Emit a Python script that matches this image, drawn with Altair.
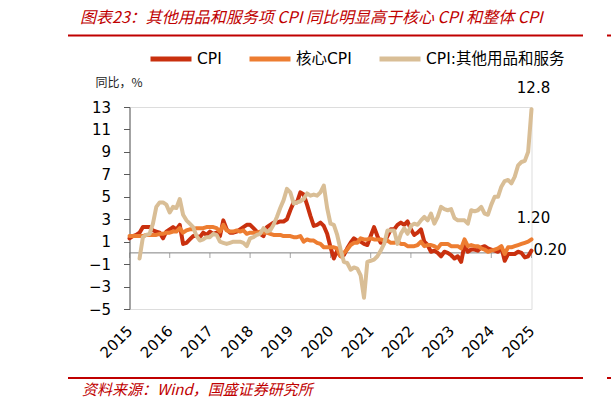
import altair as alt
import pandas as pd

# ---------------- data ----------------
title_text = "图表23：其他用品和服务项 CPI 同比明显高于核心 CPI 和整体 CPI"
source_text = "资料来源：Wind，国盛证券研究所"
y_title = "同比，%"
series_names = ["CPI", "核心CPI", "CPI:其他用品和服务"]
series_colors = ["#C9300E", "#ED7D31", "#D9BE96"]
end_labels = ["0.20", "1.20", "12.8"]

year_labels = ["2015", "2016", "2017", "2018", "2019", "2020",
               "2021", "2022", "2023", "2024", "2025"]
year_ticks = [0, 12, 24, 36, 48, 60, 72, 84, 96, 108, 120]   # month index of each label
y_ticks = [-5, -3, -1, 1, 3, 5, 7, 9, 11, 13]

# monthly, 2015-10 ... 2025-10
cpi = [1.3, 1.5, 1.6,
       1.8, 2.3, 2.3, 2.3, 2.0, 1.9, 1.8, 1.3, 1.9, 2.1, 2.3, 2.1,
       2.5, 0.8, 0.9, 1.2, 1.5, 1.5, 1.4, 1.8, 1.6, 1.9, 1.7, 1.8,
       1.5, 2.9, 2.1, 1.8, 1.8, 1.9, 2.1, 2.3, 2.5, 2.5, 2.2, 1.9,
       1.7, 1.5, 2.3, 2.5, 2.7, 2.7, 2.8, 2.8, 3.0, 3.8, 4.5, 4.5,
       5.4, 5.2, 4.3, 3.3, 2.4, 2.5, 2.7, 2.4, 1.7, 0.5, -0.5, 0.2,
       -0.3, -0.2, 0.4, 0.9, 1.3, 1.1, 1.0, 0.8, 0.7, 1.5, 2.3, 1.5,
       0.9, 0.9, 1.5, 2.1, 2.1, 2.5, 2.7, 2.5, 2.8, 2.1, 1.6, 1.8,
       2.1, 1.0, 0.7, 0.1, 0.2, 0.0, -0.3, 0.1, 0.0, -0.2, -0.5, -0.3,
       -0.8, 0.7, 0.1, 0.3, 0.3, 0.2, 0.5, 0.6, 0.4, 0.3, 0.2, 0.1,
       0.5, -0.7, -0.1, -0.1, -0.1, 0.1, 0.0, -0.4, -0.3, 0.2]

core = [1.5, 1.5, 1.5,
        1.5, 1.5, 1.6, 1.6, 1.6, 1.6, 1.7, 1.7, 1.8, 1.8, 1.9, 1.9,
        2.2, 1.8, 2.0, 2.1, 2.1, 2.2, 2.2, 2.2, 2.3, 2.3, 2.3, 2.2,
        1.9, 2.5, 2.0, 1.9, 1.9, 2.0, 1.9, 2.0, 1.7, 1.8, 1.8, 1.8,
        1.9, 1.8, 1.8, 1.7, 1.6, 1.6, 1.6, 1.5, 1.5, 1.5, 1.4, 1.4,
        1.5, 1.0, 1.2, 1.1, 1.1, 0.9, 0.8, 0.5, 0.5, 0.5, 0.5, 0.4,
        -0.3, 0.0, 0.3, 0.7, 0.9, 0.9, 1.3, 1.2, 1.2, 1.3, 1.2, 1.2,
        1.2, 1.1, 1.1, 0.9, 0.9, 1.0, 0.8, 0.8, 0.6, 0.6, 0.6, 0.7,
        1.0, 0.6, 0.7, 0.7, 0.6, 0.4, 0.8, 0.8, 0.8, 0.6, 0.6, 0.6,
        0.4, 1.2, 0.6, 0.7, 0.6, 0.6, 0.4, 0.3, 0.1, 0.2, 0.3, 0.4,
        0.6, -0.1, 0.5, 0.5, 0.6, 0.7, 0.8, 0.9, 1.0, 1.2]

other = [None, None, None,
         -0.5, 1.4, 1.6, 1.7, 2.6, 4.1, 4.5, 4.5, 4.3, 3.6, 4.1, 4.0,
         4.8, 3.4, 2.9, 2.6, 2.3, 1.5, 1.1, 1.2, 1.4, 1.4, 1.7, 1.6,
         1.0, 0.9, 0.8, 0.9, 1.0, 1.0, 1.0, 0.9, 0.6, 1.3, 1.4, 1.6,
         1.7, 2.2, 1.9, 2.0, 2.5, 3.2, 4.0, 4.7, 5.7, 5.4, 4.4, 4.5,
         4.6, 4.8, 5.3, 5.1, 5.2, 5.1, 5.4, 6.0, 4.0, 2.6, 2.5, 1.6,
         0.3, -0.8, -0.9, -1.5, -1.3, -1.4, -2.0, -4.0, -0.8, -0.7, -0.6, -0.3,
         0.2, 0.8, 2.0, 2.0, 2.0, 0.8, 1.7, 2.2, 1.7, 2.4, 2.6, 2.5,
         2.9, 3.2, 2.9, 3.5, 2.6, 3.2, 4.1, 3.9, 3.8, 3.9, 3.1, 2.9,
         2.9, 2.9, 2.6, 3.8, 3.7, 3.8, 4.1, 3.5, 3.4, 4.3, 5.0, 5.0,
         5.9, 6.4, 6.5, 6.2, 6.8, 7.8, 8.1, 8.2, 9.0, 12.8]

# ---------------- tables ----------------
rows = []
for name, vals in zip(series_names, [cpi, core, other]):
    for i, v in enumerate(vals):
        if v is not None:
            rows.append({"t": i, "series": name, "value": v})
df = pd.DataFrame(rows)

last = df.groupby("series", sort=False).tail(1).reset_index(drop=True)
last["label"] = end_labels
ticks_df = pd.DataFrame({"t": year_ticks})
one = pd.DataFrame({"a": [0]})

FONT = "DejaVu Sans"
CJK = "Noto Sans CJK SC"
RED = "#C00000"

label_expr = "[" + ",".join(f"'{y}'" for y in year_labels) + "][round(datum.value/12)]"

x_scale = alt.Scale(domain=[year_ticks[0], year_ticks[-1]], nice=False, zero=False)
y_scale = alt.Scale(domain=[y_ticks[0], y_ticks[-1]], nice=False, zero=False)

x_axis = alt.Axis(values=year_ticks, labelExpr=label_expr, labelAngle=-45,
                  labelAlign="right", labelBaseline="middle",
                  labelOverlap=False,
                  domain=False, ticks=False, grid=False, labelPadding=19,
                  labelFont=FONT, labelFontSize=15, labelColor="black",
                  title=None)
y_axis = alt.Axis(values=y_ticks, grid=False, domainColor="#595959",
                  tickColor="#595959", tickSize=6, labelPadding=13,
                  labelOverlap=False, labelFlush=False,
                  labelFont=FONT, labelFontSize=15, labelColor="black",
                  title=y_title, titleAngle=0, titleX=-34.5, titleY=-25,
                  titleAlign="left", titleBaseline="middle",
                  titleFont=CJK, titleFontSize=12, titleFontWeight="normal",
                  titleColor="#222222")

x_enc = alt.X("t:Q", scale=x_scale, axis=x_axis)
y_enc = alt.Y("value:Q", scale=y_scale, axis=y_axis)

color_enc = alt.Color("series:N",
                      scale=alt.Scale(domain=series_names, range=series_colors),
                      legend=alt.Legend(orient="none", legendX=18.5, legendY=-71,
                                        direction="horizontal", title=None,
                                        symbolType="stroke", symbolSize=1681,
                                        symbolStrokeWidth=5, labelOffset=3,
                                        columnPadding=17, labelFont=FONT + ", " + CJK,
                                        labelFontSize=15.5, labelColor="black"))

zero_rule = alt.Chart(one).mark_rule(color="#808080", strokeWidth=1).encode(
    y=alt.Y(datum=0, scale=y_scale, axis=y_axis))
year_marks = alt.Chart(ticks_df).mark_tick(orient="vertical", size=5, thickness=1,
                                           yOffset=2.5, color="#808080").encode(
    x=x_enc, y=alt.Y(datum=0, scale=y_scale, axis=y_axis))

line_layers = []
for name in series_names:
    line_layers.append(
        alt.Chart(df).transform_filter(alt.datum.series == name)
        .mark_line(strokeWidth=4, strokeJoin="round", strokeCap="round")
        .encode(x=x_enc, y=y_enc, color=color_enc)
    )

lab_above = alt.Chart(last).transform_filter(alt.datum.series != series_names[0]).mark_text(
    font=FONT, fontSize=15, color="black", align="center", baseline="middle", dx=2, dy=-21
).encode(x=x_enc, y=y_enc, text="label:N")
lab_right = alt.Chart(last).transform_filter(alt.datum.series == series_names[0]).mark_text(
    font=FONT, fontSize=15, color="black", align="left", baseline="middle", dx=2, dy=-1
).encode(x=x_enc, y=y_enc, text="label:N")

title_mark = alt.Chart(one).mark_text(
    text=title_text, font=CJK, fontSize=16, fontStyle="italic", color=RED,
    align="left", baseline="middle").encode(x=alt.value(-49.5), y=alt.value(-89))
source_mark = alt.Chart(one).mark_text(
    text=source_text, font=CJK, fontSize=15, fontStyle="italic", color=RED,
    align="left", baseline="middle").encode(x=alt.value(-47.5), y=alt.value(283))

def hline(x1, x2, y):
    return alt.Chart(one).mark_rule(color=RED, strokeWidth=2).encode(
        x=alt.value(x1), x2=alt.value(x2), y=alt.value(y))

deco = [hline(-61.5, 453.5, -71.5), hline(477.5, 482, -71.5),
        hline(-61.5, 453.5, 271), hline(477.5, 482, 271)]

chart = alt.layer(
    zero_rule, year_marks, *line_layers, lab_above, lab_right,
    title_mark, source_mark, *deco
).properties(
    width=402, height=202,
    autosize=alt.AutoSizeParams(type="none"),
    padding={"left": 129.5, "top": 107, "right": 79.5, "bottom": 101},
).configure_view(stroke=None).configure_axis(labelOverlap=False).configure(background="white")

chart.save("out.html", embed_options={"renderer": "svg", "actions": False})
